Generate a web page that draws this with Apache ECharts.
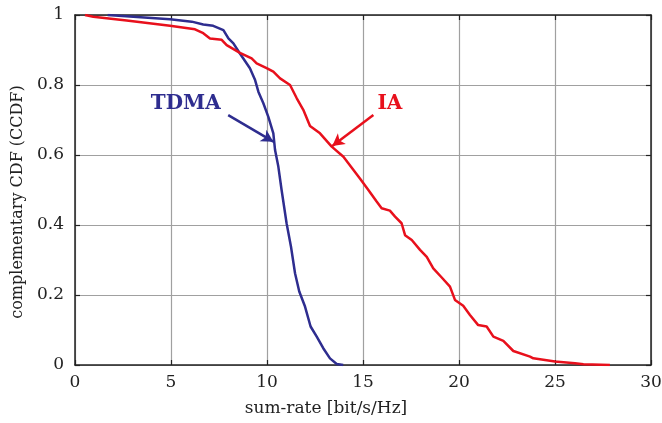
<!DOCTYPE html>
<html>
<head>
<meta charset="utf-8">
<script src="https://cdn.jsdelivr.net/npm/echarts@6/dist/echarts.min.js"></script>
<style>html,body{margin:0;padding:0;background:#fff}#c{width:662px;height:423px}</style>
</head>
<body>
<div id="c"></div>
<script>
var tdmaX = [1.7, 4.95, 6.08, 6.68, 7.2, 7.73, 7.99, 8.25, 8.59, 9.11, 9.38, 9.55, 9.81, 10.07, 10.33, 10.42, 10.59, 10.76, 11.02, 11.25, 11.46, 11.68, 11.98, 12.27, 12.59, 12.93, 13.28, 13.63, 13.97];
var tdmaY = [1.0, 0.988, 0.981, 0.973, 0.969, 0.957, 0.933, 0.919, 0.89, 0.848, 0.814, 0.781, 0.748, 0.709, 0.662, 0.614, 0.567, 0.5, 0.405, 0.338, 0.262, 0.21, 0.167, 0.11, 0.081, 0.048, 0.019, 0.003, 0.0];
var iaX = [0.52, 0.95, 2.69, 4.95, 6.25, 6.68, 7.03, 7.64, 7.9, 8.59, 9.2, 9.46, 9.98, 10.33, 10.68, 11.2, 11.55, 11.89, 12.24, 12.76, 13.37, 13.98, 14.84, 15.28, 15.71, 15.97, 16.4, 16.67, 17.01, 17.19, 17.54, 17.97, 18.32, 18.66, 19.1, 19.53, 19.79, 20.22, 20.57, 21.0, 21.44, 21.79, 22.31, 22.83, 23.7, 23.87, 25.0, 26.04, 26.48, 27.86];
var iaY = [1.0, 0.995, 0.984, 0.969, 0.959, 0.948, 0.933, 0.929, 0.914, 0.892, 0.876, 0.862, 0.848, 0.838, 0.819, 0.8, 0.762, 0.729, 0.683, 0.662, 0.624, 0.595, 0.533, 0.5, 0.467, 0.448, 0.441, 0.424, 0.405, 0.371, 0.357, 0.329, 0.309, 0.276, 0.25, 0.224, 0.186, 0.169, 0.143, 0.114, 0.11, 0.081, 0.069, 0.04, 0.024, 0.019, 0.01, 0.005, 0.002, 0.0];
var xTicks = [0, 5, 10, 15, 20, 25, 30];
var yTicks = [0, 0.2, 0.4, 0.6, 0.8, 1];
var seriesNames = ['TDMA', 'IA'];

function zip(a, b) { return a.map(function (v, i) { return [v, b[i]]; }); }

var BLUE = '#2e2d8f', RED = '#e8101c';
var FONT = 'DejaVu Serif';
var chart = echarts.init(document.getElementById('c'));
var axisCommon = {
  type: 'value', min: 0,
  axisLine: { show: true, onZero: false, lineStyle: { color: '#222', width: 1.5 } },
  axisTick: { show: true, inside: true, length: 5, lineStyle: { color: '#222', width: 1.2 } },
  axisLabel: { color: '#222', fontFamily: FONT, fontSize: 17 }
};
chart.setOption({
  animation: false,
  grid: { left: 75, top: 15, right: 11, bottom: 58, containLabel: false, outerBoundsMode: 'none' },
  xAxis: [
    Object.assign({}, axisCommon, {
      max: 30, interval: 5, position: 'bottom',
      name: 'sum-rate [bit/s/Hz]', nameLocation: 'middle', nameGap: 35,
      nameTextStyle: { color: '#222', fontFamily: FONT, fontSize: 17, padding: [0, 74, 0, 0] },
      axisLabel: { color: '#222', fontFamily: FONT, fontSize: 17, margin: 9 },
      splitLine: { show: true, lineStyle: { color: '#a0a0a0', width: 1.2 } }
    }),
    Object.assign({}, axisCommon, {
      max: 30, interval: 5, position: 'top',
      axisLabel: { show: false }, splitLine: { show: false }
    })
  ],
  yAxis: [
    Object.assign({}, axisCommon, {
      max: 1, interval: 0.2, position: 'left',
      name: 'complementary CDF (CCDF)', nameLocation: 'middle', nameGap: 48,
      nameTextStyle: { color: '#222', fontFamily: FONT, fontSize: 16, padding: [0, 24, 0, 0] },
      axisLabel: { color: '#222', fontFamily: FONT, fontSize: 17, margin: 11,
        formatter: function (v) { return (v === 0 || v === 1) ? String(v) : v.toFixed(1); } },
      splitLine: { show: true, lineStyle: { color: '#a0a0a0', width: 1.2 } }
    }),
    Object.assign({}, axisCommon, {
      max: 1, interval: 0.2, position: 'right',
      axisLabel: { show: false }, splitLine: { show: false }
    })
  ],
  series: [
    {
      name: seriesNames[0], type: 'line', data: zip(tdmaX, tdmaY), showSymbol: false,
      lineStyle: { color: BLUE, width: 2.5 }, z: 3,
      markLine: {
        silent: true, symbol: ['none', 'arrow'], symbolSize: [10, 12],
        lineStyle: { color: BLUE, width: 2.5, type: 'solid' }, label: { show: false },
        data: [[{ coord: [7.98, 0.714] }, { coord: [10.33, 0.638] }]]
      },
      markPoint: {
        silent: true, symbol: 'circle', symbolSize: 1, itemStyle: { color: 'rgba(0,0,0,0)' },
        label: { show: true, formatter: seriesNames[0], color: BLUE, fontFamily: FONT, fontWeight: 'bold', fontSize: 20, position: 'inside' },
        data: [{ coord: [5.77, 0.746] }]
      }
    },
    {
      name: seriesNames[1], type: 'line', data: zip(iaX, iaY), showSymbol: false,
      lineStyle: { color: RED, width: 2.5 }, z: 4,
      markLine: {
        silent: true, symbol: ['none', 'arrow'], symbolSize: [10, 12],
        lineStyle: { color: RED, width: 2.5, type: 'solid' }, label: { show: false },
        data: [[{ coord: [15.54, 0.714] }, { coord: [13.4, 0.626] }]]
      },
      markPoint: {
        silent: true, symbol: 'circle', symbolSize: 1, itemStyle: { color: 'rgba(0,0,0,0)' },
        label: { show: true, formatter: seriesNames[1], color: RED, fontFamily: FONT, fontWeight: 'bold', fontSize: 20, position: 'inside' },
        data: [{ coord: [16.4, 0.746] }]
      }
    }
  ]
});
</script>
</body>
</html>
